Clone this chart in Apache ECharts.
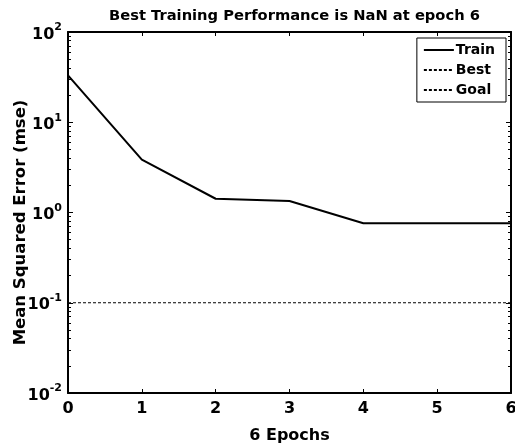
<!DOCTYPE html>
<html>
<head>
<meta charset="utf-8">
<script src="https://cdn.jsdelivr.net/npm/echarts@6/dist/echarts.min.js"></script>
<style>
  html, body { margin: 0; padding: 0; background: #ffffff; }
  #chart { width: 515px; height: 448px; }
</style>
</head>
<body>
<div id="chart"></div>
<script>
// Training record
const epochs = [0, 1, 2, 3, 4, 5, 6];
const trainPerf = [33, 3.85, 1.42, 1.34, 0.76, 0.76, 0.76];
const goalValue = 0.1;
const bestEpoch = 6;
const bestPerf = NaN;

// Axis ticks
const xTicks = [0, 1, 2, 3, 4, 5, 6];
const yMajorTicks = [0.01, 0.1, 1, 10, 100];
// minor ticks 2..9 in each decade, expressed as log10 positions
const yMinorTicksLog = [];
for (let d = -2; d < 2; d++) {
  for (let m = 2; m <= 9; m++) yMinorTicksLog.push(d + Math.log10(m));
}

const FONT = '"DejaVu Sans", "Liberation Sans", Arial, sans-serif';
const GRID = { left: 68, right: 4, top: 32, bottom: 55, outerBoundsMode: 'none', containLabel: false };

const chart = echarts.init(document.getElementById('chart'), null, { renderer: 'canvas' });

const hiddenX = {
  type: 'value', gridIndex: 1, min: 0, max: 6, show: false
};

function minorAxis(pos) {
  return {
    type: 'value',
    gridIndex: 1,
    position: pos,
    min: Math.log10(yMajorTicks[0]),
    max: Math.log10(yMajorTicks[yMajorTicks.length - 1]),
    interval: 1,
    axisLine: { show: false },
    axisLabel: { show: false },
    splitLine: { show: false },
    axisTick: { show: true, inside: true, length: 3, customValues: yMinorTicksLog, lineStyle: { color: '#000' } }
  };
}

const option = {
  backgroundColor: '#ffffff',
  animation: false,
  title: {
    text: 'Best Training Performance is NaN at epoch 6',
    left: 104,
    top: 4,
    textStyle: { fontFamily: FONT, fontSize: 14.7, fontWeight: 'bold', color: '#000' }
  },
  legend: {
    orient: 'vertical',
    right: 9,
    top: 38,
    data: ['Train', 'Best', 'Goal'],
    itemWidth: 30,
    itemHeight: 14,
    itemGap: 6,
    padding: [5, 11, 5, 6],
    borderColor: '#000',
    borderWidth: 1,
    backgroundColor: '#fff',
    itemStyle: { opacity: 0 },
    textStyle: { fontFamily: FONT, fontSize: 14, fontWeight: 'bold', color: '#000', padding: [0, 0, 0, -3] }
  },
  grid: [Object.assign({}, GRID), Object.assign({}, GRID)],
  xAxis: [
    {
      type: 'value',
      gridIndex: 0,
      min: xTicks[0],
      max: xTicks[xTicks.length - 1],
      interval: 1,
      position: 'bottom',
      name: '6 Epochs',
      nameLocation: 'middle',
      nameGap: 35,
      nameTextStyle: { fontFamily: FONT, fontSize: 16, fontWeight: 'bold', color: '#000' },
      axisLine: { show: true, onZero: false, lineStyle: { color: '#000', width: 2 } },
      axisTick: { show: true, inside: true, length: 4, lineStyle: { color: '#000' } },
      axisLabel: { fontFamily: FONT, fontSize: 16, fontWeight: 'bold', color: '#000', margin: 8 },
      splitLine: { show: false }
    },
    {
      type: 'value',
      gridIndex: 0,
      min: xTicks[0],
      max: xTicks[xTicks.length - 1],
      interval: 1,
      position: 'top',
      axisLine: { show: true, onZero: false, lineStyle: { color: '#000', width: 2 } },
      axisTick: { show: true, inside: true, length: 4, lineStyle: { color: '#000' } },
      axisLabel: { show: false },
      splitLine: { show: false }
    },
    hiddenX
  ],
  yAxis: [
    {
      type: 'log',
      logBase: 10,
      gridIndex: 0,
      position: 'left',
      min: yMajorTicks[0],
      max: yMajorTicks[yMajorTicks.length - 1],
      interval: 1,
      name: 'Mean Squared Error (mse)',
      nameLocation: 'middle',
      nameGap: 39,
      nameMoveOverlap: false,
      nameTextStyle: { fontFamily: FONT, fontSize: 16.5, fontWeight: 'bold', color: '#000', padding: [0, 0, 0, -20] },
      axisLine: { show: true, onZero: false, lineStyle: { color: '#000', width: 2 } },
      axisTick: { show: true, inside: true, length: 5, lineStyle: { color: '#000' } },
      splitLine: { show: false },
      axisLabel: {
        show: true,
        margin: 6,
        formatter: function (v) {
          const e = Math.round(Math.log10(v));
          return '{b|10}{e|' + e + '}';
        },
        rich: {
          b: { fontFamily: FONT, fontSize: 16, fontWeight: 'bold', color: '#000', padding: [5, 0, 0, 0] },
          e: { fontFamily: FONT, fontSize: 11, fontWeight: 'bold', color: '#000', padding: [0, 0, 9, 0] }
        }
      }
    },
    {
      type: 'log',
      logBase: 10,
      gridIndex: 0,
      position: 'right',
      min: yMajorTicks[0],
      max: yMajorTicks[yMajorTicks.length - 1],
      interval: 1,
      axisLine: { show: true, onZero: false, lineStyle: { color: '#000', width: 2 } },
      axisTick: { show: true, inside: true, length: 5, lineStyle: { color: '#000' } },
      axisLabel: { show: false },
      splitLine: { show: false }
    },
    minorAxis('left'),
    minorAxis('right')
  ],
  series: [
    {
      name: 'Train',
      type: 'line',
      xAxisIndex: 0,
      yAxisIndex: 0,
      symbol: 'none',
      data: epochs.map((e, i) => [e, trainPerf[i]]),
      lineStyle: { color: '#000', width: 2 },
      itemStyle: { color: '#000' }
    },
    {
      name: 'Best',
      type: 'line',
      xAxisIndex: 0,
      yAxisIndex: 0,
      symbol: 'none',
      data: [[bestEpoch, bestPerf]],
      lineStyle: { color: '#000', width: 1, type: [3, 2] },
      itemStyle: { color: '#000' }
    },
    {
      name: 'Goal',
      type: 'line',
      xAxisIndex: 0,
      yAxisIndex: 0,
      symbol: 'none',
      data: [[xTicks[0], goalValue], [xTicks[xTicks.length - 1], goalValue]],
      lineStyle: { color: '#000', width: 1, type: [3, 2] },
      itemStyle: { color: '#000' }
    },
    {
      // empty series so the minor-tick grid has a coordinate system
      type: 'line',
      xAxisIndex: 2,
      yAxisIndex: 2,
      data: [],
      silent: true
    },
    {
      type: 'line',
      xAxisIndex: 2,
      yAxisIndex: 3,
      data: [],
      silent: true
    }
  ]
};

chart.setOption(option);
</script>
</body>
</html>
